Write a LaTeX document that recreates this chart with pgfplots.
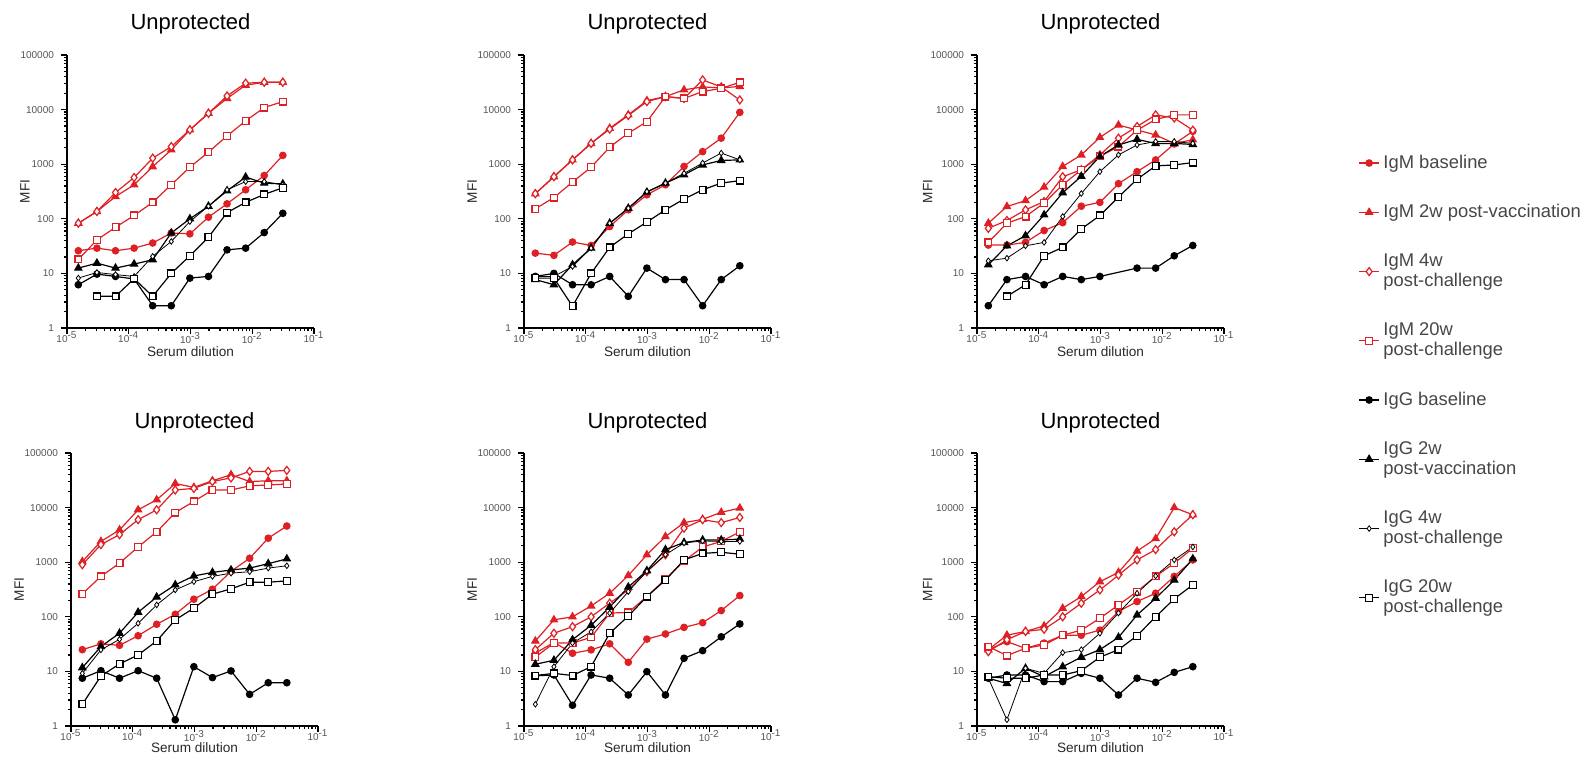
\documentclass[border=0pt]{standalone}
\usepackage{fontspec}
\setmainfont{Liberation Sans}
\usepackage{pgfplots}
\usepackage{pgfplotstable}
\pgfplotsset{compat=1.18}
\definecolor{myred}{RGB}{222,32,36}
\definecolor{tickgray}{RGB}{85,85,85}
\definecolor{labgray}{RGB}{40,40,40}
\definecolor{leggray}{RGB}{70,70,70}

% columns: a IgM baseline, b IgM 2w, c IgM 4w, d IgM 20w, e IgG baseline, f IgG 2w, g IgG 4w, h IgG 20w
\pgfplotstableread{
x a b c d e f g h
1.526e-5 26 83 83 18 6.2 12.5 8.2 nan
3.052e-5 29 136 136 41 9.7 15.4 10.4 3.8
6.104e-5 26 255 303 70 8.8 12.5 9.5 3.8
1.221e-4 29 420 570 115 7.9 14.8 8.8 8
2.441e-4 36 900 1290 200 2.56 17.8 20.5 3.8
4.883e-4 55 1830 2100 420 2.56 55 38.5 10
9.766e-4 53 4250 4250 880 8.2 100 89 21
1.953e-3 107 8550 8550 1660 8.8 170 170 46
3.906e-3 188 16000 17800 3300 27 325 340 130
7.813e-3 340 28000 30500 6200 29 580 480 200
1.563e-2 620 31600 31600 10900 56 450 480 280
3.125e-2 1450 31600 31600 14000 126 435 418 370
}\tabA
\pgfplotstableread{
x a b c d e f g h
1.526e-5 23.5 288 288 152 8.8 7.7 8.8 8.2
3.052e-5 21.4 590 590 245 10 6.2 8.8 8.2
6.104e-5 37.5 1200 1200 470 6.2 14.4 13.4 2.5
1.221e-4 32.5 2400 2400 880 6.2 29 29 10
2.441e-4 72 4550 4400 2050 8.8 83 83 30
4.883e-4 146 8000 7800 3700 3.8 156 156 53
9.766e-4 275 14600 14000 6000 12.5 308 315 87
1.953e-3 420 17300 17300 17300 7.7 450 450 146
3.906e-3 910 23000 16000 16000 7.7 640 680 230
7.813e-3 1700 26000 35000 21400 2.56 970 1050 340
1.563e-2 3000 25000 26000 24500 7.7 1170 1600 450
3.125e-2 8900 26500 15000 31600 13.8 1200 1200 500
}\tabB
\pgfplotstableread{
x a b c d e f g h
1.526e-5 33 83 67 37 2.56 14.4 17 nan
3.052e-5 33 168 93 83 7.7 32 19 3.8
6.104e-5 37 215 146 110 8.8 49 32 6.2
1.221e-4 61 380 207 195 6.2 118 37 21
2.441e-4 85 910 590 420 8.8 300 110 30
4.883e-4 170 1480 790 790 7.7 600 290 65
9.766e-4 200 3100 1480 1390 8.8 1390 730 115
1.953e-3 440 5200 3000 2100 nan 2250 1480 250
3.906e-3 730 4240 4900 4200 12.5 2850 2250 530
7.813e-3 1200 3430 8000 6600 12.5 2400 2600 930
1.563e-2 2350 2400 7000 8000 21 2400 2600 970
3.125e-2 4000 2800 4200 8000 32.5 2300 2400 1070
}\tabC
\pgfplotstableread{
x a b c d e f g h
1.526e-5 25 1030 900 262 7.5 11.7 9.2 2.5
3.052e-5 32 2400 2100 550 10.3 28.5 24.8 8.2
6.104e-5 30 3900 3200 960 7.5 50 38.7 13.7
1.221e-4 45 9100 6000 1900 10.3 121 76 20
2.441e-4 73 13900 9100 3600 7.5 230 165 36
4.883e-4 111 27500 21000 8100 1.3 385 310 88
9.766e-4 210 23500 22500 13000 12.2 560 440 144
1.953e-3 320 31000 30000 21000 7.7 650 550 260
3.906e-3 680 40000 35000 21000 10.2 720 630 325
7.813e-3 1180 30000 46000 25000 3.8 780 670 430
1.563e-2 2750 31000 46000 26000 6.2 940 780 430
3.125e-2 4600 31000 48000 27000 6.2 1150 860 455
}\tabD
\pgfplotstableread{
x a b c d e f g h
1.526e-5 21.5 36 25 18.2 8.3 13.5 2.5 8.4
3.052e-5 34 88 50 33 8.6 16 12.2 9.2
6.104e-5 21.5 100 66 33 2.4 38 33 8.4
1.221e-4 24.8 158 100 42 8.6 70 53 12.2
2.441e-4 32 270 178 117 7.5 150 117 50
4.883e-4 14.7 570 310 120 3.7 350 290 103
9.766e-4 39 1370 670 235 9.9 700 680 235
1.953e-3 48.5 2950 1370 490 3.7 1700 1370 470
3.906e-3 64 5300 4200 1050 17.4 2300 2250 1100
7.813e-3 78 6100 6000 1900 24 2550 2450 1450
1.563e-2 130 8200 5300 2400 43 2550 2400 1520
3.125e-2 245 9800 6600 3600 74 2650 2400 1400
}\tabE
\pgfplotstableread{
x a b c d e f g h
1.526e-5 25 25 23 28.5 7.5 7.5 7.5 8
3.052e-5 35 46 38 19.5 8.6 6.0 1.3 7.5
6.104e-5 26.5 54 54 26.5 8.6 11.4 11.4 7.5
1.221e-4 33 68 59 30.5 6.5 8.0 9.2 8.6
2.441e-4 46 143 100 46 6.5 12.2 22 8.6
4.883e-4 46 235 177 57 9.2 18.2 25 10.3
9.766e-4 57 440 310 94 7.5 25 50 18.2
1.953e-3 125 650 580 165 3.7 42 117 25
3.906e-3 190 1600 1100 290 7.5 108 270 45
7.813e-3 270 2700 1700 550 6.3 218 560 100
1.563e-2 550 10000 3600 960 9.6 470 1100 213
3.125e-2 1100 7400 7400 1800 12.2 1150 1900 385
}\tabF

\pgfplotsset{
  mypanelstyle/.style={
    scale only axis, width=123.5pt, height=136.5pt,
    xmin=1e-5, xmax=1e-1, ymin=1, ymax=1e5,
    axis x line*=bottom, axis y line*=left,
    axis line style={line width=1.1pt},
    tick align=outside, major tick length=3pt, minor tick length=1.6pt,
    tick style={black, line width=0.6pt},
    xtick={1e-5,1e-4,1e-3,1e-2,1e-1},
    xticklabels={10\textsuperscript{-5},10\textsuperscript{-4},10\textsuperscript{-3},10\textsuperscript{-2},10\textsuperscript{-1}},
    ytick={1,10,100,1000,10000,100000},
    yticklabels={1,10,100,1000,10000,100000},
    tick label style={font=\fontsize{5}{6}\selectfont, text=tickgray},
    xticklabel style={yshift=4.5pt},
    title={Unprotected},
    title style={font=\fontsize{11}{13}\selectfont, text=black},
    xlabel={Serum dilution},
    xlabel style={font=\fontsize{6.8}{8}\selectfont, text=labgray, anchor=center},
    ylabel={MFI},
    ylabel style={font=\fontsize{6.8}{8}\selectfont, text=labgray, anchor=center},
    clip=false,
  },
  myrowastyle/.style={title style={at={(0.5,1.068)}, anchor=south, yshift=-8.5pt}, xlabel style={at={(0.5,-0.088)}}},
  myrowbstyle/.style={title style={at={(0.5,1.064)}, anchor=south, yshift=-8.5pt}, xlabel style={at={(0.5,-0.081)}}},
  sIgmA/.style={myred, line width=0.6pt, mark=*, mark size=1.6pt, mark options={solid, fill=myred}},
  sIgmB/.style={myred, line width=0.6pt, mark=triangle*, mark size=2pt, mark options={solid, fill=myred}},
  sIgmC/.style={myred, line width=0.6pt, mark=diamond*, mark size=2pt, mark options={solid, fill=white}},
  sIgmD/.style={myred, line width=0.6pt, mark=square*, mark size=1.7pt, mark options={solid, fill=white}},
  sIggA/.style={black, line width=0.6pt, mark=*, mark size=1.6pt, mark options={solid, fill=black}},
  sIggB/.style={black, line width=0.6pt, mark=triangle*, mark size=2pt, mark options={solid, fill=black}},
  sIggC/.style={black, line width=0.4pt, mark=diamond*, mark size=1.4pt, mark options={solid, fill=white}},
  sIggD/.style={black, line width=0.6pt, mark=square*, mark size=1.7pt, mark options={solid, fill=white}},
}

\newcommand{\plotall}[1]{%
  \addplot[sIgmA] table[x=x,y=a]{#1};
  \addplot[sIgmB] table[x=x,y=b]{#1};
  \addplot[sIgmC] table[x=x,y=c]{#1};
  \addplot[sIgmD] table[x=x,y=d]{#1};
  \addplot[sIggA] table[x=x,y=e]{#1};
  \addplot[sIggB] table[x=x,y=f]{#1};
  \addplot[sIggC] table[x=x,y=g]{#1};
  \addplot[sIggD] table[x=x,y=h]{#1};
}

\begin{document}
\begin{tikzpicture}
\path[use as bounding box] (0,0) rectangle (795.5pt,383pt);

\begin{loglogaxis}[mypanelstyle, myrowastyle, at={(33.5pt,219pt)}, anchor=south west,
  ylabel style={at={(-0.17,0.5)}}]
\plotall{\tabA}
\end{loglogaxis}

\begin{loglogaxis}[mypanelstyle, myrowastyle, at={(262pt,219pt)}, anchor=south west,
  ylabel style={at={(-0.21,0.5)}}]
\plotall{\tabB}
\end{loglogaxis}

\begin{loglogaxis}[mypanelstyle, myrowastyle, at={(488.5pt,219pt)}, anchor=south west,
  ylabel style={at={(-0.2,0.5)}},
  legend style={at={(1.52,0.665)}, anchor=north west, draw=none, fill=none,
    font=\fontsize{9.2}{10.2}\selectfont, text=leggray, row sep=12.5pt,
    cells={anchor=west, align=left}},
  legend image code/.code={\draw[mark repeat=2,mark phase=2] plot coordinates {(0cm,0cm) (0.17cm,0cm) (0.34cm,0cm)};}]
\plotall{\tabC}
\legend{IgM baseline, IgM 2w post-vaccination, IgM 4w\\post-challenge, IgM 20w\\post-challenge,
  IgG baseline, IgG 2w\\post-vaccination, IgG 4w\\post-challenge, IgG 20w\\post-challenge}
\end{loglogaxis}

\begin{loglogaxis}[mypanelstyle, myrowbstyle, at={(35.5pt,20pt)}, anchor=south west,
  ylabel style={at={(-0.21,0.5)}}]
\plotall{\tabD}
\end{loglogaxis}

\begin{loglogaxis}[mypanelstyle, myrowbstyle, at={(262pt,20pt)}, anchor=south west,
  ylabel style={at={(-0.21,0.5)}}]
\plotall{\tabE}
\end{loglogaxis}

\begin{loglogaxis}[mypanelstyle, myrowbstyle, at={(488.5pt,20pt)}, anchor=south west,
  ylabel style={at={(-0.2,0.5)}}]
\plotall{\tabF}
\end{loglogaxis}
\end{tikzpicture}
\end{document}
